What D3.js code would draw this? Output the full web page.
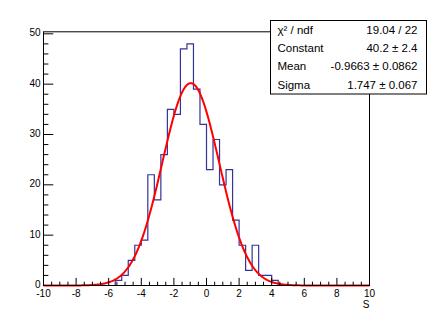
<!DOCTYPE html>
<html>
<head>
<meta charset="utf-8">
<script src="https://cdn.jsdelivr.net/npm/d3@7"></script>
<style>
  body { margin: 0; background: #fff; }
  svg text { font-family: "Liberation Sans", Arial, sans-serif; }
</style>
</head>
<body>
<svg id="chart" width="436" height="318"></svg>
<script>
// histogram: 50 bins from -10 to 10
var binLow = -10, binHigh = 10;
var counts = [0,0,0,0,0,0,0,0,0,0, 0,1,2,5,8,9,22,17,26,35,
              34,47,48,39,32,23,29,20,23,13, 8,3,8,2,2,1,0,0,0,0,
              0,0,0,0,0,0,0,0,0,0];
// gaus fit result
var fitConstant = 40.2, fitMean = -0.9663, fitSigma = 1.747;
var statLabels = ["\u03c7\u00b2 / ndf", "Constant", "Mean", "Sigma"];
var statValues = ["19.04 / 22", "40.2 \u00b1 2.4", "-0.9663 \u00b1 0.0862", "1.747 \u00b1 0.067"];
var xTicks = [-10, -8, -6, -4, -2, 0, 2, 4, 6, 8, 10];
var yTicks = [0, 10, 20, 30, 40, 50];
var xTitle = "S";

var svg = d3.select("#chart");
var frame = {left: 43.5, right: 369.5, top: 31.8, bottom: 285.5};
var yMax = d3.max(counts) * 1.05;

var x = d3.scaleLinear().domain([binLow, binHigh]).range([frame.left, frame.right]);
var y = d3.scaleLinear().domain([0, yMax]).range([frame.bottom, frame.top]);

var binW = (binHigh - binLow) / counts.length;

// histogram step line
var pts = [[binLow, 0]];
counts.forEach(function (c, i) {
    pts.push([binLow + i * binW, c]);
    pts.push([binLow + (i + 1) * binW, c]);
});
pts.push([binHigh, 0]);
svg.append("path")
    .attr("d", d3.line().x(function (d) { return x(d[0]); }).y(function (d) { return y(d[1]); })(pts))
    .attr("fill", "none")
    .attr("stroke", "#333399")
    .attr("stroke-width", 1.2);

// fit curve
var fx = d3.range(0, 401).map(function (i) { return binLow + i * (binHigh - binLow) / 400; });
svg.append("path")
    .attr("d", d3.line()
        .x(function (v) { return x(v); })
        .y(function (v) { return y(fitConstant * Math.exp(-0.5 * Math.pow((v - fitMean) / fitSigma, 2))); })(fx))
    .attr("fill", "none")
    .attr("stroke", "#ff0000")
    .attr("stroke-width", 2);

// frame
svg.append("rect")
    .attr("x", frame.left).attr("y", frame.top)
    .attr("width", frame.right - frame.left).attr("height", frame.bottom - frame.top)
    .attr("fill", "none").attr("stroke", "#000").attr("stroke-width", 1);

// x axis ticks (ROOT style, inside)
var xMajor = (frame.bottom - frame.top) * 0.03;
var xAxisG = svg.append("g");
d3.range(binLow, binHigh + 0.001, 0.5).forEach(function (v) {
    var isMajor = Math.abs(v / 2 - Math.round(v / 2)) < 1e-6;
    xAxisG.append("line")
        .attr("x1", x(v)).attr("x2", x(v))
        .attr("y1", frame.bottom).attr("y2", frame.bottom - (isMajor ? xMajor : xMajor / 2))
        .attr("stroke", "#000").attr("stroke-width", 1);
});
xAxisG.selectAll("text.xl").data(xTicks).enter().append("text")
    .attr("x", function (d) { return x(d); })
    .attr("y", 297)
    .attr("text-anchor", "middle")
    .attr("font-size", "10px")
    .text(function (d) { return d; });
xAxisG.append("text")
    .attr("x", frame.right).attr("y", 308)
    .attr("text-anchor", "end").attr("font-size", "10px")
    .text(xTitle);

// y axis ticks
var yMajorLen = (frame.right - frame.left) * 0.03;
var yAxisG = svg.append("g");
d3.range(0, 51, 2).forEach(function (v) {
    var isMajor = v % 10 === 0;
    yAxisG.append("line")
        .attr("x1", frame.left).attr("x2", frame.left + (isMajor ? yMajorLen : yMajorLen / 2))
        .attr("y1", y(v)).attr("y2", y(v))
        .attr("stroke", "#000").attr("stroke-width", 1);
});
yAxisG.selectAll("text.yl").data(yTicks).enter().append("text")
    .attr("x", 40.5)
    .attr("y", function (d) { return y(d) - 1; })
    .attr("dy", "0.35em")
    .attr("text-anchor", "end")
    .attr("font-size", "10px")
    .text(function (d) { return d; });

// stats box
var box = {x: 270.5, y: 20.5, w: 156, h: 73.5};
svg.append("rect")
    .attr("x", box.x).attr("y", box.y).attr("width", box.w).attr("height", box.h)
    .attr("fill", "#fff").attr("stroke", "#000").attr("stroke-width", 1);
var rowH = box.h / statLabels.length;
statLabels.forEach(function (lab, i) {
    var by = box.y + rowH * (i + 0.5);
    svg.append("text")
        .attr("x", box.x + 7).attr("y", by).attr("dy", "0.35em")
        .attr("font-size", "11.5px").text(lab);
    svg.append("text")
        .attr("x", box.x + box.w - 9).attr("y", by).attr("dy", "0.35em")
        .attr("text-anchor", "end")
        .attr("font-size", "11.5px").text(statValues[i]);
});
</script>
</body>
</html>
